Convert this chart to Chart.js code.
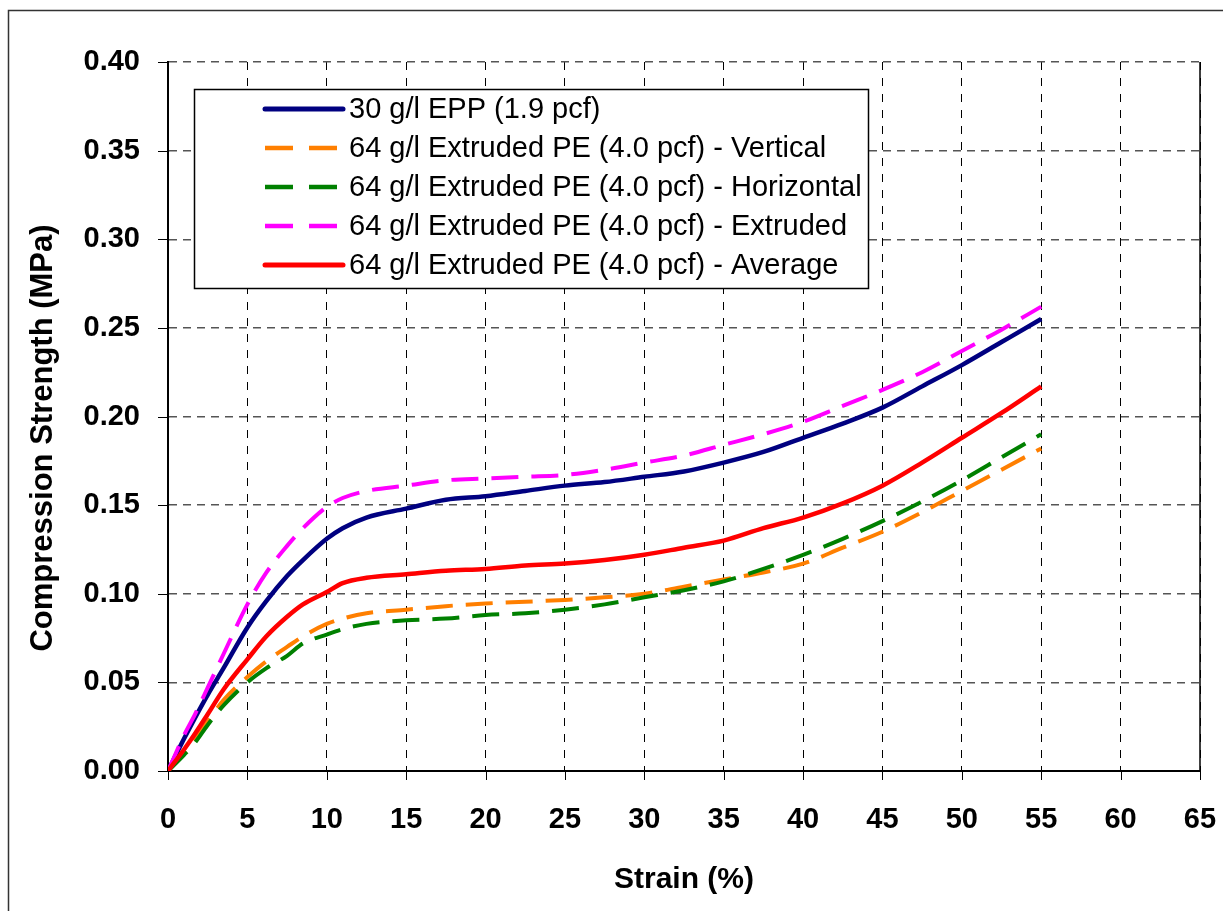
<!DOCTYPE html>
<html>
<head>
<meta charset="utf-8">
<script src="https://cdn.jsdelivr.net/npm/chart.js@4.4.0/dist/chart.umd.min.js"></script>
<style>
  html, body { margin: 0; padding: 0; background: #fff; }
</style>
</head>
<body>
<canvas id="chartBig1" width="1223" height="911"></canvas>
<script>
// strain (%) sample points shared by all curves
var strain = [0, 1, 1.7, 2.5, 3.5, 5, 6.2, 7.5, 8.5, 10, 11, 12.5, 15, 17.5, 20, 22.5, 25, 27.5, 30, 32.5, 35, 37.5, 40, 42.5, 45, 47.5, 50, 52.5, 55];

var eppVals        = [0, 0.018, 0.030, 0.043, 0.058, 0.081, 0.096, 0.110, 0.119, 0.131, 0.137, 0.143, 0.148, 0.153, 0.155, 0.158, 0.161, 0.163, 0.166, 0.169, 0.174, 0.180, 0.188, 0.196, 0.205, 0.217, 0.229, 0.242, 0.255];
var verticalVals   = [0, 0.010, 0.018, 0.028, 0.040, 0.053, 0.062, 0.070, 0.076, 0.083, 0.086, 0.089, 0.091, 0.093, 0.0945, 0.0955, 0.0965, 0.098, 0.100, 0.104, 0.108, 0.112, 0.117, 0.126, 0.135, 0.146, 0.158, 0.170, 0.182];
var horizontalVals = [0, 0.009, 0.016, 0.026, 0.037, 0.050, 0.058, 0.065, 0.072, 0.077, 0.080, 0.083, 0.085, 0.086, 0.088, 0.089, 0.091, 0.094, 0.098, 0.102, 0.107, 0.114, 0.122, 0.131, 0.141, 0.152, 0.164, 0.177, 0.190];
var extrudedVals   = [0, 0.020, 0.032, 0.047, 0.066, 0.094, 0.112, 0.127, 0.137, 0.149, 0.154, 0.158, 0.161, 0.164, 0.165, 0.166, 0.167, 0.170, 0.174, 0.178, 0.184, 0.190, 0.197, 0.206, 0.215, 0.225, 0.237, 0.249, 0.262];
var averageVals    = [0, 0.012, 0.021, 0.032, 0.046, 0.063, 0.076, 0.087, 0.094, 0.101, 0.106, 0.109, 0.111, 0.113, 0.114, 0.116, 0.117, 0.119, 0.122, 0.126, 0.130, 0.137, 0.143, 0.151, 0.161, 0.174, 0.188, 0.202, 0.217];

var seriesLabels = [
  "30 g/l EPP (1.9 pcf)",
  "64 g/l Extruded PE (4.0 pcf) - Vertical",
  "64 g/l Extruded PE (4.0 pcf) - Horizontal",
  "64 g/l Extruded PE (4.0 pcf) - Extruded",
  "64 g/l Extruded PE (4.0 pcf) - Average"
];
var yTitle = "Compression Strength (MPa)";
var xTitle = "Strain (%)";

function pts(vals) {
  return vals.map(function (v, i) { return { x: strain[i], y: v }; });
}

var dashes = [27, 13];

function makeSet(label, vals, color, dashed, order) {
  return {
    label: label,
    data: pts(vals),
    borderColor: color,
    backgroundColor: color,
    borderWidth: dashed ? 4 : 4.5,
    borderDash: dashed ? dashes : [],
    pointRadius: 0,
    showLine: true,
    fill: false,
    cubicInterpolationMode: 'monotone',
    order: order
  };
}

// draws outer frame, right border, tick marks, y title and the legend box
var extras = {
  id: 'extras',
  beforeDraw: function (chart) {
    var ctx = chart.ctx;
    ctx.save();
    ctx.fillStyle = '#fff';
    ctx.fillRect(0, 0, chart.width, chart.height);
    ctx.restore();
  },
  afterDraw: function (chart) {
    var ctx = chart.ctx;
    var a = chart.chartArea;
    var xs = chart.scales.x, ys = chart.scales.y;
    ctx.save();

    // right border
    ctx.strokeStyle = '#000';
    ctx.lineWidth = 1.5;
    ctx.beginPath();
    ctx.moveTo(a.right, a.top);
    ctx.lineTo(a.right, a.bottom);
    ctx.stroke();

    // tick marks
    ctx.lineWidth = 1;
    ctx.beginPath();
    xs.ticks.forEach(function (t) {
      var px = Math.round(xs.getPixelForValue(t.value)) + 0.5;
      ctx.moveTo(px, a.bottom);
      ctx.lineTo(px, a.bottom + 9);
    });
    ys.ticks.forEach(function (t) {
      var py = Math.round(ys.getPixelForValue(t.value)) + 0.5;
      ctx.moveTo(a.left - 10, py);
      ctx.lineTo(a.left, py);
    });
    ctx.stroke();

    // y axis title
    ctx.save();
    ctx.translate(43, 438);
    ctx.rotate(-Math.PI / 2);
    ctx.fillStyle = '#000';
    ctx.font = 'bold 31px "Liberation Sans", Arial, sans-serif';
    ctx.textAlign = 'center';
    ctx.textBaseline = 'middle';
    ctx.fillText(yTitle, 0, 0);
    ctx.restore();

    // outer frame
    ctx.strokeStyle = '#333';
    ctx.lineWidth = 1.5;
    ctx.strokeRect(8.5, 10.5, 1400, 1000);

    // legend
    var lx = 194, ly = 89, lw = 674, lh = 199;
    ctx.fillStyle = '#fff';
    ctx.fillRect(lx, ly, lw, lh);
    ctx.strokeStyle = '#000';
    ctx.lineWidth = 1.5;
    ctx.strokeRect(lx + 0.5, ly + 0.5, lw, lh);

    ctx.font = '29px "Liberation Sans", Arial, sans-serif';
    ctx.textBaseline = 'middle';
    ctx.textAlign = 'left';
    chart.data.datasets.forEach(function (ds, i) {
      var cy = 109 + i * 39;
      ctx.save();
      ctx.strokeStyle = ds.borderColor;
      ctx.lineWidth = ds.borderWidth + 0.5;
      ctx.lineCap = ds.borderDash.length ? 'butt' : 'round';
      ctx.setLineDash(ds.borderDash.length ? [28, 16] : []);
      ctx.beginPath();
      ctx.moveTo(265, cy);
      ctx.lineTo(343, cy);
      ctx.stroke();
      ctx.restore();
      ctx.fillStyle = '#000';
      ctx.fillText(ds.label, 349, cy + 1);
    });
    ctx.restore();
  }
};

var ctx = document.getElementById("chartBig1").getContext('2d');
var config = {
  type: 'scatter',
  data: {
    datasets: [
      makeSet(seriesLabels[0], eppVals, '#000080', false, 5),
      makeSet(seriesLabels[1], verticalVals, '#FF7F00', true, 4),
      makeSet(seriesLabels[2], horizontalVals, '#008000', true, 3),
      makeSet(seriesLabels[3], extrudedVals, '#FF00FF', true, 2),
      makeSet(seriesLabels[4], averageVals, '#FF0000', false, 1)
    ]
  },
  options: {
    responsive: false,
    animation: false,
    layout: { padding: { top: 62, right: 23, left: 0, bottom: 0 } },
    plugins: {
      legend: { display: false },
      tooltip: { enabled: false }
    },
    scales: {
      x: {
        type: 'linear',
        min: 0,
        max: 65,
        afterFit: function (s) { s.height = 140; s.paddingLeft = 0; s.paddingRight = 0; },
        ticks: {
          stepSize: 5,
          padding: 32,
          color: '#000',
          font: { family: '"Liberation Sans", Arial, sans-serif', size: 29, weight: 'bold' }
        },
        grid: { color: '#000', lineWidth: 1, drawTicks: false },
        border: { display: true, color: '#000', width: 2, dash: [8, 8] },
        title: {
          display: true,
          text: xTitle,
          color: '#000',
          padding: { top: 0, bottom: 13 },
          font: { family: '"Liberation Sans", Arial, sans-serif', size: 30, weight: 'bold' }
        }
      },
      y: {
        type: 'linear',
        min: 0,
        max: 0.4,
        afterFit: function (s) { s.width = 168; s.paddingTop = 0; s.paddingBottom = 0; },
        ticks: {
          stepSize: 0.05,
          padding: 28,
          color: '#000',
          callback: function (v) { return v.toFixed(2); },
          font: { family: '"Liberation Sans", Arial, sans-serif', size: 29, weight: 'bold' }
        },
        grid: { color: '#555', lineWidth: 1.5, drawTicks: false },
        border: { display: true, color: '#000', width: 2, dash: [8, 6] }
      }
    }
  },
  plugins: [extras]
};
var myChartData = new Chart(ctx, config);
</script>
</body>
</html>
